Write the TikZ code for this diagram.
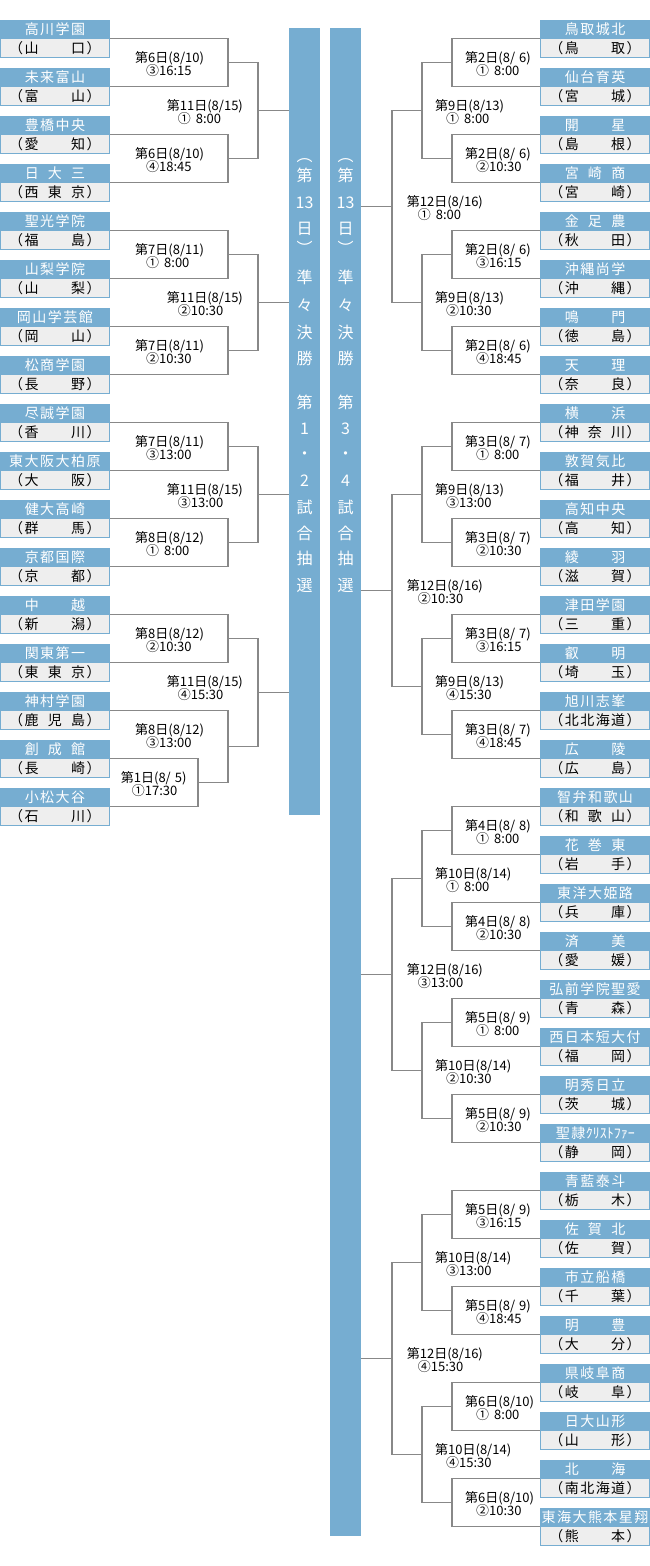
\documentclass[tikz,border=0pt]{standalone}
\usepackage{fontspec}
\setmainfont{Noto Sans CJK JP}
\definecolor{kblue}{RGB}{118,173,209}
\definecolor{kgray}{RGB}{136,136,136}
\definecolor{kpale}{RGB}{238,238,238}
\makeatletter
\def\ks#1{\ks@#1\relax}
\def\ks@#1{\ifx#1\relax\else\ks@@#1\expandafter\ks@\fi}
\def\ks@@#1{\ifx#1-\hspace{7.75pt}\else\ifx#1*\hspace{15.5pt}\else\makebox[15.5pt]{#1}\fi\fi}
\makeatother
\newcommand\gsp{\hspace{4pt}}
\newcommand\gsq{\hspace{5pt}}
\tikzset{
  namebox/.style={rectangle, fill=kblue, minimum width=110pt, minimum height=18.5pt, inner sep=0pt,
    text=white, font=\fontsize{14}{14}\selectfont, text height=12.32pt, text depth=1.68pt},
  prefbox/.style={rectangle, fill=kpale, draw=kblue, line width=1pt, minimum width=109pt, minimum height=18.5pt,
    inner sep=0pt, text=black, font=\fontsize{14}{14}\selectfont, text height=12.32pt, text depth=1.68pt},
  labtext/.style={inner sep=0pt, anchor=west, text=black, font=\fontsize{13}{13}\selectfont,
    text height=11.44pt, text depth=1.56pt},
  barbox/.style={rectangle, fill=kblue, inner sep=0pt, minimum width=31pt},
  bartext/.style={inner sep=0pt, text=white, font=\fontsize{16}{16}\selectfont, text height=14.08pt, text depth=1.92pt},
  conn/.style={draw=kgray, line width=1.5pt}
}
\newcommand\team[5]{%
  \node[namebox] (#1) at (#2,{29.25+48*#3}) {\ks{#4}};
  \node[prefbox] (#1p) at (#2,{48+48*#3}) {\ks{#5}};}
\newcommand\teamraw[5]{%
  \node[namebox] (#1) at (#2,{29.25+48*#3}) {#4};
  \node[prefbox] (#1p) at (#2,{48+48*#3}) {\ks{#5}};}
\newcommand\lab[5]{%
  \node[labtext] (#1a) at (#2,#3) {#4};
  \node[labtext] (#1b) at ({#2+11},{#3+12.5}) {#5};}
\begin{document}
\begin{tikzpicture}[x=1pt,y=-1pt]
\useasboundingbox (0,0) rectangle (650,1566);
\fill[white] (0,0) rectangle (650,1566);
% bars
\node[barbox, minimum height=787pt] (barL) at (304.5,421.5) {};
\node[barbox, minimum height=1507.5pt] (barR) at (345.5,781.75) {};
\foreach \ch/\yy [count=\i] in {︵/155,第/175,13/202,日/228,︶/248,準/277,々/305,決/332,勝/358,第/402,1/428,・/453,2/480,試/507,合/533,抽/558,選/585}
  \node[bartext] (bl\i) at (304.5,\yy) {\ch};
\foreach \ch/\yy [count=\i] in {︵/155,第/175,13/202,日/228,︶/248,準/277,々/305,決/332,勝/358,第/402,3/428,・/453,4/480,試/507,合/533,抽/558,選/585}
  \node[bartext] (br\i) at (345.5,\yy) {\ch};
% left teams
\team{L0}{55}{0}{高川学園}{（山**口）}
\team{L1}{55}{1}{未来富山}{（富**山）}
\team{L2}{55}{2}{豊橋中央}{（愛**知）}
\team{L3}{55}{3}{日-大-三}{（西-東-京）}
\team{L4}{55}{4}{聖光学院}{（福**島）}
\team{L5}{55}{5}{山梨学院}{（山**梨）}
\team{L6}{55}{6}{岡山学芸館}{（岡**山）}
\team{L7}{55}{7}{松商学園}{（長**野）}
\team{L8}{55}{8}{尽誠学園}{（香**川）}
\team{L9}{55}{9}{東大阪大柏原}{（大**阪）}
\team{L10}{55}{10}{健大高崎}{（群**馬）}
\team{L11}{55}{11}{京都国際}{（京**都）}
\team{L12}{55}{12}{中**越}{（新**潟）}
\team{L13}{55}{13}{関東第一}{（東-東-京）}
\team{L14}{55}{14}{神村学園}{（鹿-児-島）}
\team{L15}{55}{15}{創-成-館}{（長**崎）}
\team{L16}{55}{16}{小松大谷}{（石**川）}
% right teams
\team{R0}{595}{0}{鳥取城北}{（鳥**取）}
\team{R1}{595}{1}{仙台育英}{（宮**城）}
\team{R2}{595}{2}{開**星}{（島**根）}
\team{R3}{595}{3}{宮-崎-商}{（宮**崎）}
\team{R4}{595}{4}{金-足-農}{（秋**田）}
\team{R5}{595}{5}{沖縄尚学}{（沖**縄）}
\team{R6}{595}{6}{鳴**門}{（徳**島）}
\team{R7}{595}{7}{天**理}{（奈**良）}
\team{R8}{595}{8}{横**浜}{（神-奈-川）}
\team{R9}{595}{9}{敦賀気比}{（福**井）}
\team{R10}{595}{10}{高知中央}{（高**知）}
\team{R11}{595}{11}{綾**羽}{（滋**賀）}
\team{R12}{595}{12}{津田学園}{（三**重）}
\team{R13}{595}{13}{叡**明}{（埼**玉）}
\team{R14}{595}{14}{旭川志峯}{（北北海道）}
\team{R15}{595}{15}{広**陵}{（広**島）}
\team{R16}{595}{16}{智弁和歌山}{（和-歌-山）}
\team{R17}{595}{17}{花-巻-東}{（岩**手）}
\team{R18}{595}{18}{東洋大姫路}{（兵**庫）}
\team{R19}{595}{19}{済**美}{（愛**媛）}
\team{R20}{595}{20}{弘前学院聖愛}{（青**森）}
\team{R21}{595}{21}{西日本短大付}{（福**岡）}
\team{R22}{595}{22}{明秀日立}{（茨**城）}
\teamraw{R23}{595}{23}{\ks{聖隷}ｸﾘｽﾄﾌｧｰ}{（静**岡）}
\team{R24}{595}{24}{青藍泰斗}{（栃**木）}
\team{R25}{595}{25}{佐-賀-北}{（佐**賀）}
\team{R26}{595}{26}{市立船橋}{（千**葉）}
\team{R27}{595}{27}{明**豊}{（大**分）}
\team{R28}{595}{28}{県岐阜商}{（岐**阜）}
\team{R29}{595}{29}{日大山形}{（山**形）}
\team{R30}{595}{30}{北**海}{（南北海道）}
\team{R31}{595}{31}{東海大熊本星翔}{（熊**本）}
% left connectors
\coordinate (la0) at (228,62.5);  \draw[conn] (L0.south east) -| (la0) |- (L1.south east);
\coordinate (la1) at (228,158.5); \draw[conn] (L2.south east) -| (la1) |- (L3.south east);
\coordinate (la2) at (228,254.5); \draw[conn] (L4.south east) -| (la2) |- (L5.south east);
\coordinate (la3) at (228,350.5); \draw[conn] (L6.south east) -| (la3) |- (L7.south east);
\coordinate (la4) at (228,446.5); \draw[conn] (L8.south east) -| (la4) |- (L9.south east);
\coordinate (la5) at (228,542.5); \draw[conn] (L10.south east) -| (la5) |- (L11.south east);
\coordinate (la6) at (228,638.5); \draw[conn] (L12.south east) -| (la6) |- (L13.south east);
\coordinate (la8) at (198,782.5); \draw[conn] (L15.south east) -| (la8) |- (L16.south east);
\coordinate (la7) at (228,746.5); \draw[conn] (L14.south east) -| (la7) |- (la8);
\coordinate (lb0) at (258,110.5); \draw[conn] (la0) -| (lb0) |- (la1); \draw[conn] (lb0) -- (lb0 -| barL.west);
\coordinate (lb1) at (258,302.5); \draw[conn] (la2) -| (lb1) |- (la3); \draw[conn] (lb1) -- (lb1 -| barL.west);
\coordinate (lb2) at (258,494.5); \draw[conn] (la4) -| (lb2) |- (la5); \draw[conn] (lb2) -- (lb2 -| barL.west);
\coordinate (lb3) at (258,692.5); \draw[conn] (la6) -| (lb3) |- (la7); \draw[conn] (lb3) -- (lb3 -| barL.west);
% right connectors
\foreach \n in {0,...,15}{
  \pgfmathtruncatemacro\ta{2*\n}\pgfmathtruncatemacro\tb{2*\n+1}
  \coordinate (ra\n) at (452,{62.5+96*\n});
  \draw[conn] (R\ta.south west) -| (ra\n) |- (R\tb.south west);
}
\foreach \n in {0,...,7}{
  \pgfmathtruncatemacro\ta{2*\n}\pgfmathtruncatemacro\tb{2*\n+1}
  \coordinate (rb\n) at (422,{110.5+192*\n});
  \draw[conn] (ra\ta) -| (rb\n) |- (ra\tb);
}
\foreach \n in {0,...,3}{
  \pgfmathtruncatemacro\ta{2*\n}\pgfmathtruncatemacro\tb{2*\n+1}
  \coordinate (rc\n) at (392,{206.5+384*\n});
  \draw[conn] (rb\ta) -| (rc\n) |- (rb\tb);
  \draw[conn] (rc\n) -- (rc\n -| barR.east);
}
% left labels
\lab{ma0}{135}{58}{第6日(8/10)}{③16:15}
\lab{ma1}{135}{154}{第6日(8/10)}{④18:45}
\lab{mb0}{166.7}{106}{第11日(8/15)}{①\gsq 8:00}
\lab{ma2}{135}{250}{第7日(8/11)}{①\gsq 8:00}
\lab{ma3}{135}{346}{第7日(8/11)}{②10:30}
\lab{mb1}{166.7}{298}{第11日(8/15)}{②10:30}
\lab{ma4}{135}{442}{第7日(8/11)}{③13:00}
\lab{ma5}{135}{538}{第8日(8/12)}{①\gsq 8:00}
\lab{mb2}{166.7}{490}{第11日(8/15)}{③13:00}
\lab{ma6}{135}{634}{第8日(8/12)}{②10:30}
\lab{ma7}{135}{730}{第8日(8/12)}{③13:00}
\lab{ma8}{120.7}{778}{第1日(8/\gsp 5)}{①17:30}
\lab{mb3}{166.7}{682}{第11日(8/15)}{④15:30}
% right labels, round 1
\lab{na0}{465}{58}{第2日(8/\gsp 6)}{①\gsq 8:00}
\lab{na1}{465}{154}{第2日(8/\gsp 6)}{②10:30}
\lab{na2}{465}{250}{第2日(8/\gsp 6)}{③16:15}
\lab{na3}{465}{346}{第2日(8/\gsp 6)}{④18:45}
\lab{na4}{465}{442}{第3日(8/\gsp 7)}{①\gsq 8:00}
\lab{na5}{465}{538}{第3日(8/\gsp 7)}{②10:30}
\lab{na6}{465}{634}{第3日(8/\gsp 7)}{③16:15}
\lab{na7}{465}{730}{第3日(8/\gsp 7)}{④18:45}
\lab{na8}{465}{826}{第4日(8/\gsp 8)}{①\gsq 8:00}
\lab{na9}{465}{922}{第4日(8/\gsp 8)}{②10:30}
\lab{na10}{465}{1018}{第5日(8/\gsp 9)}{①\gsq 8:00}
\lab{na11}{465}{1114}{第5日(8/\gsp 9)}{②10:30}
\lab{na12}{465}{1210}{第5日(8/\gsp 9)}{③16:15}
\lab{na13}{465}{1306}{第5日(8/\gsp 9)}{④18:45}
\lab{na14}{465}{1402}{第6日(8/10)}{①\gsq 8:00}
\lab{na15}{465}{1498}{第6日(8/10)}{②10:30}
% right labels, round 2
\lab{nb0}{435}{106}{第9日(8/13)}{①\gsq 8:00}
\lab{nb1}{435}{298}{第9日(8/13)}{②10:30}
\lab{nb2}{435}{490}{第9日(8/13)}{③13:00}
\lab{nb3}{435}{682}{第9日(8/13)}{④15:30}
\lab{nb4}{435}{874}{第10日(8/14)}{①\gsq 8:00}
\lab{nb5}{435}{1066}{第10日(8/14)}{②10:30}
\lab{nb6}{435}{1258}{第10日(8/14)}{③13:00}
\lab{nb7}{435}{1450}{第10日(8/14)}{④15:30}
% right labels, round 3
\lab{nc0}{406.7}{202}{第12日(8/16)}{①\gsq 8:00}
\lab{nc1}{406.7}{586}{第12日(8/16)}{②10:30}
\lab{nc2}{406.7}{970}{第12日(8/16)}{③13:00}
\lab{nc3}{406.7}{1354}{第12日(8/16)}{④15:30}
\end{tikzpicture}
\end{document}
